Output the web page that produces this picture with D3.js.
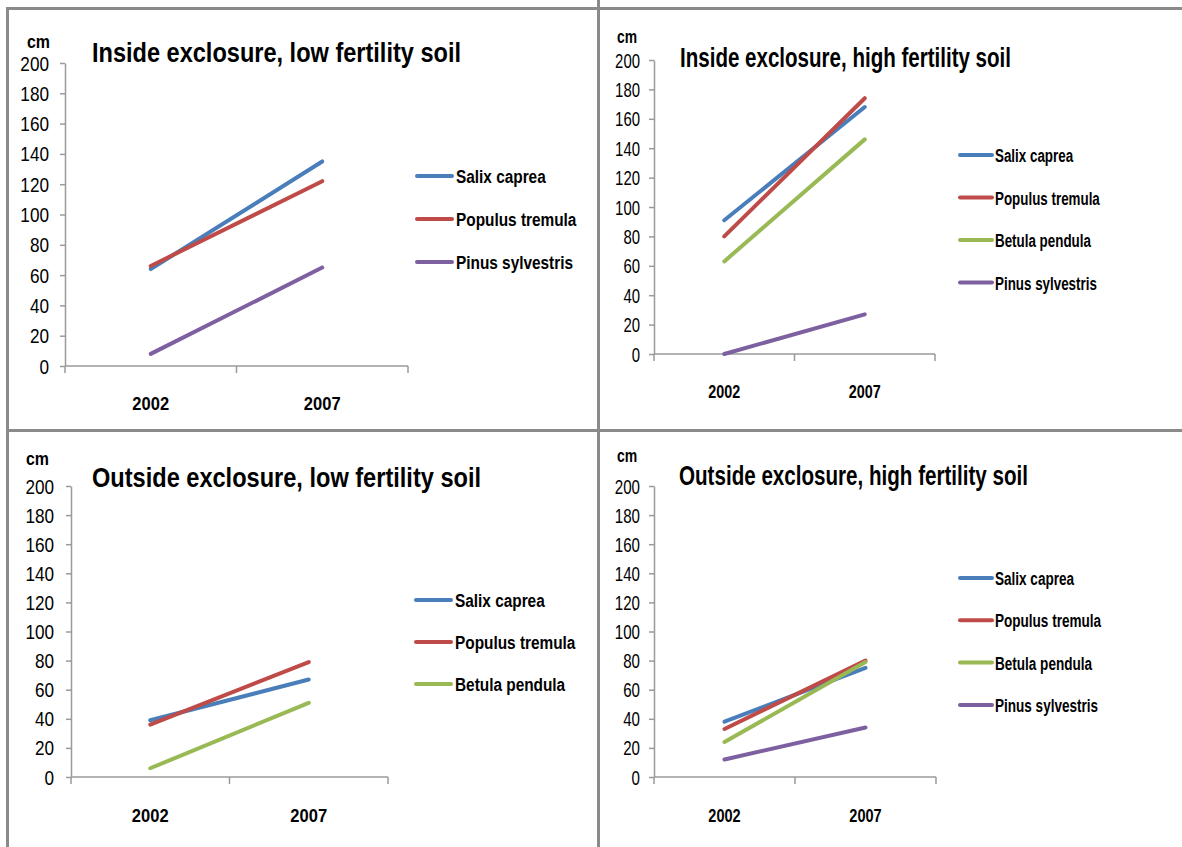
<!DOCTYPE html>
<html>
<head>
<meta charset="utf-8">
<script src="https://cdn.jsdelivr.net/npm/d3@7"></script>
<style>
  body { margin: 0; background: #fff; }
  svg { display: block; }
  text { font-family: "Liberation Sans Narrow", "Liberation Sans", Arial, sans-serif; fill: #000; }
</style>
</head>
<body>
<svg id="chart" width="1182" height="847"></svg>
<script>
// ---- data ----
const years = ["2002", "2007"];
const yTickValues = [0, 20, 40, 60, 80, 100, 120, 140, 160, 180, 200];
const unitLabel = "cm";

const speciesNames = ["Salix caprea", "Populus tremula", "Betula pendula", "Pinus sylvestris"];
const speciesColors = ["#4A7EBB", "#BE4B48", "#98B954", "#7D60A0"];

const panelTitles = [
  "Inside exclosure, low fertility soil",
  "Inside exclosure, high fertility soil",
  "Outside exclosure, low fertility soil",
  "Outside exclosure, high fertility soil"
];

// mean height (cm) in 2002 and 2007, one pair per species
const insideLowSpecies = ["Salix caprea", "Populus tremula", "Pinus sylvestris"];
const insideLowValues = [[64, 135], [66, 122], [8, 65]];

const insideHighSpecies = ["Salix caprea", "Populus tremula", "Betula pendula", "Pinus sylvestris"];
const insideHighValues = [[91, 168], [80, 174], [63, 146], [0, 27]];

const outsideLowSpecies = ["Salix caprea", "Populus tremula", "Betula pendula"];
const outsideLowValues = [[39, 67], [36, 79], [6, 51]];

const outsideHighSpecies = ["Salix caprea", "Populus tremula", "Betula pendula", "Pinus sylvestris"];
const outsideHighValues = [[38, 75], [33, 80], [24, 79], [12, 34]];

// ---- layout of the four panels ----
const panels = [
  { title: panelTitles[0], species: insideLowSpecies, values: insideLowValues,
    x0: 65, x1: 408, yTop: 63, yBot: 366, sx: 1,
    titleX: 92, titleY: 62, titleW: 369, cmX: 27, cmY: 48, tickRight: 49, catY: 410,
    legLine: [417, 452], legText: 456, legY: 176, legStep: 43 },
  { title: panelTitles[1], species: insideHighSpecies, values: insideHighValues,
    x0: 654, x1: 935, yTop: 60, yBot: 354, sx: 0.87,
    titleX: 680, titleY: 67, titleW: 331, cmX: 617, cmY: 43, tickRight: 640, catY: 398,
    legLine: [960, 992], legText: 995, legY: 155, legStep: 42.5 },
  { title: panelTitles[2], species: outsideLowSpecies, values: outsideLowValues,
    x0: 71, x1: 388, yTop: 486, yBot: 777, sx: 1,
    titleX: 92, titleY: 487, titleW: 389, cmX: 26, cmY: 465, tickRight: 54, catY: 822,
    legLine: [416, 451], legText: 455, legY: 600, legStep: 42 },
  { title: panelTitles[3], species: outsideHighSpecies, values: outsideHighValues,
    x0: 654, x1: 936, yTop: 486, yBot: 777, sx: 0.88,
    titleX: 679, titleY: 485, titleW: 349, cmX: 617, cmY: 462, tickRight: 640, catY: 822,
    legLine: [960, 992], legText: 995, legY: 578, legStep: 42.3 }
];

// horizontal condensing applied to each kind of text
const squeeze = { tick: 0.88, category: 0.87, unit: 0.84, legend: 0.81 };

const svg = d3.select("#chart");
const colorOf = d3.scaleOrdinal().domain(speciesNames).range(speciesColors);

// panel frame lines
const frame = svg.append("g").attr("stroke", "#8a8a8a").attr("stroke-width", 3);
frame.append("line").attr("x1", 6).attr("x2", 1182).attr("y1", 8.5).attr("y2", 8.5);
frame.append("line").attr("x1", 7.5).attr("x2", 7.5).attr("y1", 7).attr("y2", 847);
frame.append("line").attr("x1", 598.5).attr("x2", 598.5).attr("y1", 0).attr("y2", 847);
frame.append("line").attr("x1", 6).attr("x2", 1182).attr("y1", 430.5).attr("y2", 430.5);

// text placed at (x, y), squeezed horizontally by sx
function label(g, x, y, str, sx, opts = {}) {
  return g.append("g").attr("transform", `translate(${x},${y}) scale(${sx},1)`)
    .append("text").text(str)
    .attr("font-size", opts.size || 19)
    .attr("font-weight", opts.weight || "normal")
    .attr("text-anchor", opts.anchor || "start");
}

panels.forEach(p => {
  const g = svg.append("g");

  const y = d3.scaleLinear().domain([0, 200]).range([p.yBot, p.yTop]);
  const x = d3.scaleBand().domain(years).range([p.x0, p.x1]);

  // y axis
  const tickSx = p.sx * squeeze.tick;
  const yAxis = g.append("g").attr("transform", `translate(${p.x0},0)`)
    .call(d3.axisLeft(y).tickValues(yTickValues).tickSize(5).tickSizeOuter(0).tickFormat(d3.format("d")));
  yAxis.select(".domain").attr("stroke", "#9a9a9a").attr("stroke-width", 1.5);
  yAxis.selectAll(".tick line").attr("stroke", "#9a9a9a").attr("stroke-width", 1.5);
  yAxis.selectAll(".tick text")
    .attr("font-family", null)
    .attr("font-size", 19.5)
    .attr("fill", "#000")
    .attr("x", -(p.x0 - p.tickRight) / tickSx)
    .attr("dy", "0.36em")
    .attr("transform", `scale(${tickSx},1)`);

  // x axis with boundary ticks between categories
  const xAxis = g.append("g");
  xAxis.append("line")
    .attr("x1", x.range()[0]).attr("x2", x.range()[1])
    .attr("y1", y(0)).attr("y2", y(0))
    .attr("stroke", "#9a9a9a").attr("stroke-width", 1.5);
  const bounds = years.map(d => x(d)).concat([x(years[years.length - 1]) + x.bandwidth()]);
  xAxis.selectAll("line.bound").data(bounds).join("line").attr("class", "bound")
    .attr("x1", d => d).attr("x2", d => d)
    .attr("y1", y(0)).attr("y2", y(0) + 7)
    .attr("stroke", "#9a9a9a").attr("stroke-width", 1.5);
  years.forEach(yr => {
    label(xAxis, x(yr) + x.bandwidth() / 2, p.catY, yr, p.sx * squeeze.category,
      { size: 19, weight: "bold", anchor: "middle" });
  });

  // unit label and title
  label(g, p.cmX, p.cmY, unitLabel, p.sx * squeeze.unit, { size: 19, weight: "bold" });
  g.append("text").text(p.title)
    .attr("x", p.titleX).attr("y", p.titleY)
    .attr("font-size", 27.5).attr("font-weight", "bold")
    .attr("textLength", p.titleW).attr("lengthAdjust", "spacingAndGlyphs");

  // series lines
  const line = d3.line()
    .x((v, i) => x(years[i]) + x.bandwidth() / 2)
    .y(v => y(v));
  g.selectAll("path.series").data(p.values).join("path").attr("class", "series")
    .attr("d", line)
    .attr("fill", "none")
    .attr("stroke", (d, i) => colorOf(p.species[i]))
    .attr("stroke-width", 4)
    .attr("stroke-linecap", "round");

  // legend
  const leg = g.append("g");
  p.species.forEach((name, i) => {
    const ly = p.legY + i * p.legStep;
    leg.append("line")
      .attr("x1", p.legLine[0]).attr("x2", p.legLine[1])
      .attr("y1", ly).attr("y2", ly)
      .attr("stroke", colorOf(name)).attr("stroke-width", 4).attr("stroke-linecap", "round");
    label(leg, p.legText, ly + 7, name, p.sx * squeeze.legend, { size: 19, weight: "bold" });
  });
});
</script>
</body>
</html>
